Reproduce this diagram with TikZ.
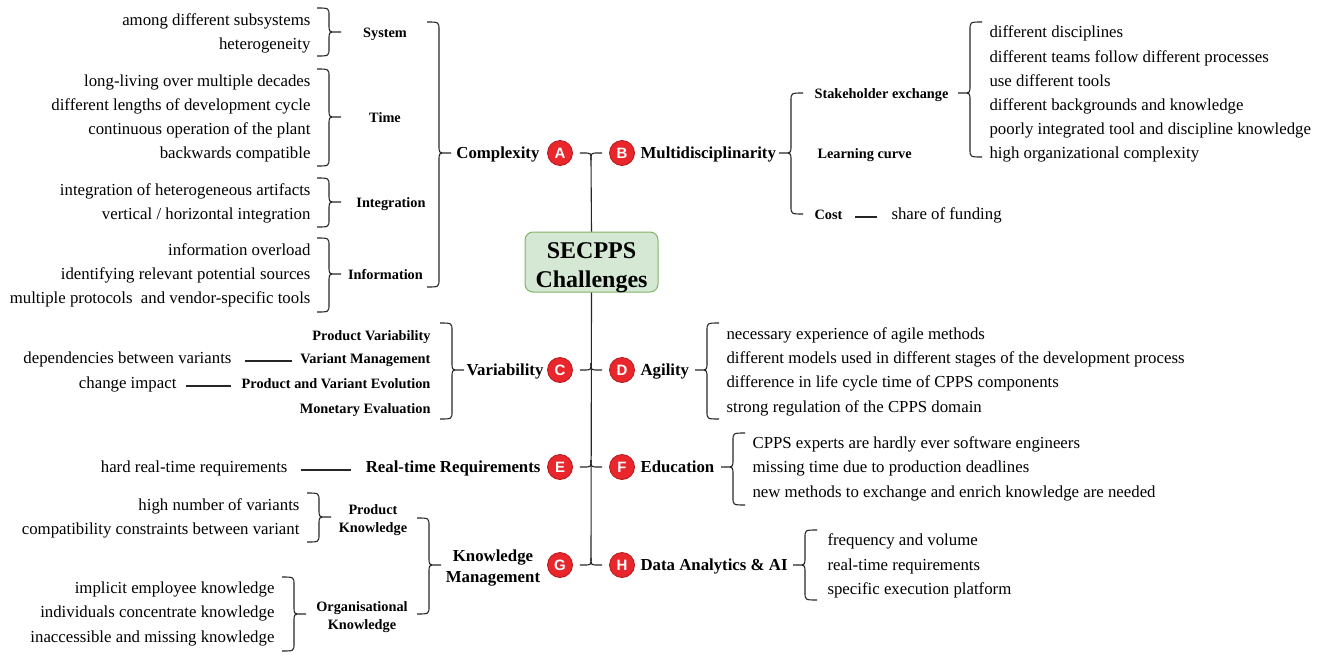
\documentclass[tikz,border=0pt]{standalone}
\usepackage{fontspec}
\setmainfont{Liberation Serif}
\newfontfamily\badgefont{Liberation Sans}
\definecolor{badgered}{HTML}{E8262B}
\definecolor{badgeline}{HTML}{B3191D}
\definecolor{hubfill}{HTML}{D5E8D4}
\definecolor{hubline}{HTML}{82B366}

% curly brace: x of the ends, y top, y tip, y bottom, 1 = tip to the right, -1 = tip to the left
\newcommand{\curly}[5]{%
  \pgfmathsetmacro{\cxa}{#1+#5*12}%
  \pgfmathsetmacro{\cxd}{#1+#5*19}%
  \pgfmathsetmacro{\cxb}{#1+#5*24}%
  \draw (#1,#2) .. controls (\cxa,#2) .. (\cxa,#2+8) -- (\cxa,#3-8)
    .. controls (\cxa,#3) .. (\cxd,#3) -- (\cxb,#3) -- (\cxd,#3)
    .. controls (\cxa,#3) .. (\cxa,#3+8) -- (\cxa,#4-8)
    .. controls (\cxa,#4) .. (#1,#4);
}

\begin{document}
\begin{tikzpicture}[x=1pt,y=-1pt,line width=1.1pt,draw=black!85,
  leaf/.style={font=\fontsize{16.8}{20}\selectfont,inner sep=0pt,yshift=-3pt},
  sub/.style={font=\bfseries\fontsize{14.3}{18}\selectfont,inner sep=0pt,align=center,yshift=-3pt},
  head/.style={font=\bfseries\fontsize{16.8}{21}\selectfont,inner sep=0pt,align=center,yshift=-3pt},
  badge/.style={circle,fill=badgered,draw=badgeline,line width=0.8pt,minimum size=25pt,
    inner sep=0pt,text=white,font=\badgefont\bfseries\fontsize{15}{15}\selectfont},
  hub/.style={rounded corners=8pt,fill=hubfill,draw=hubline,line width=1pt,
    minimum width=133pt,minimum height=60pt},
  hubtext/.style={align=center,inner sep=0pt,font=\bfseries\fontsize{24}{29}\selectfont}]
\useasboundingbox (0,0) rectangle (1325,654);

% centre and spine
\node[hub] (hub) at (591.5,262) {};
\node[hubtext] (hubtxt) at (591.5,267.5) {SECPPS\\Challenges};
\node[badge] (bA) at (560,153) {A};
\node[badge] (bB) at (622,153) {B};
\node[badge] (bC) at (560,370) {C};
\node[badge] (bD) at (622,370) {D};
\node[badge] (bE) at (560,467) {E};
\node[badge] (bF) at (622,467) {F};
\node[badge] (bG) at (560,565) {G};
\node[badge] (bH) at (622,565) {H};
\coordinate (jAB) at (591,153);
\coordinate (jCD) at (591,370);
\coordinate (jEF) at (591,467);
\coordinate (jGH) at (591,565);
\draw ([xshift=7pt]bA.east) -- ([xshift=-7pt]jAB) .. controls (jAB) .. ([yshift=-7pt]jAB);
\draw ([xshift=-7pt]bB.west) -- ([xshift=7pt]jAB) .. controls (jAB) .. ([yshift=-7pt]jAB);
\draw ([yshift=-7pt]jAB) -- (hub.north);
\draw (hub.south) -- ([yshift=7pt]jGH);
\foreach \l/\r/\j in {bC/bD/jCD,bE/bF/jEF,bG/bH/jGH} {
  \draw ([xshift=7pt]\l.east) -- ([xshift=-7pt]\j) .. controls (\j) .. ([yshift=7pt]\j);
  \draw ([xshift=-7pt]\r.west) -- ([xshift=7pt]\j) .. controls (\j) .. ([yshift=7pt]\j);
}

% A complexity
\node[head,anchor=mid east] (cplx) at (540,153) {Complexity};
\curly{427}{22}{153}{287}{1}
\node[sub,anchor=mid] (system) at (385,32) {System};
\node[sub,anchor=mid] (time) at (385,117) {Time};
\node[sub,anchor=mid] (integ) at (391,202) {Integration};
\node[sub,anchor=mid] (inform) at (385.5,274) {Information};
\curly{317}{8}{32}{56}{1}
\curly{317}{69}{117}{166}{1}
\curly{317}{178}{202}{227}{1}
\curly{317}{238}{274}{312}{1}
\node[leaf,anchor=mid east] (sys1) at (311,20) {among different subsystems};
\node[leaf,anchor=mid east] (sys2) at (311,44) {heterogeneity};
\node[leaf,anchor=mid east] (time1) at (311,81) {long-living over multiple decades};
\node[leaf,anchor=mid east] (time2) at (311,105) {different lengths of development cycle};
\node[leaf,anchor=mid east] (time3) at (311,129) {continuous operation of the plant};
\node[leaf,anchor=mid east] (time4) at (311,153) {backwards compatible};
\node[leaf,anchor=mid east] (int1) at (311,190) {integration of heterogeneous artifacts};
\node[leaf,anchor=mid east] (int2) at (311,214) {vertical / horizontal integration};
\node[leaf,anchor=mid east] (inf1) at (311,250) {information overload};
\node[leaf,anchor=mid east] (inf2) at (311,274) {identifying relevant potential sources};
\node[leaf,anchor=mid east] (inf3) at (311,298) {multiple protocols\ \ and vendor-specific tools};

% B multidisciplinarity
\node[head,anchor=mid west] (mult) at (640,153) {Multidisciplinarity};
\curly{803}{93}{153}{214}{-1}
\node[sub,anchor=mid west] (stake) at (814,93) {Stakeholder exchange};
\node[sub,anchor=mid west] (learn) at (817,153) {Learning curve};
\node[sub,anchor=mid west] (cost) at (814,214) {Cost};
\node[leaf,anchor=mid west] (fund) at (891,214) {share of funding};
\draw[shorten <=12pt,shorten >=14pt] (cost.mid east) -- (fund.mid west);
\curly{982}{22}{93}{157}{-1}
\node[leaf,anchor=mid west] (stk1) at (989,32) {different disciplines};
\node[leaf,anchor=mid west] (stk2) at (989,57) {different teams follow different processes};
\node[leaf,anchor=mid west] (stk3) at (989,81) {use different tools};
\node[leaf,anchor=mid west] (stk4) at (989,105) {different backgrounds and knowledge};
\node[leaf,anchor=mid west] (stk5) at (989,129) {poorly integrated tool and discipline knowledge};
\node[leaf,anchor=mid west] (stk6) at (989,153) {high organizational complexity};

% C variability
\node[head,anchor=mid east] (var) at (544,370) {Variability};
\curly{440}{323}{370}{419}{1}
\node[sub,anchor=mid east] (pvar) at (431,335) {Product Variability};
\node[sub,anchor=mid east] (vman) at (431,358) {Variant Management};
\node[sub,anchor=mid east] (pve) at (431,383) {Product and Variant Evolution};
\node[sub,anchor=mid east] (meval) at (431,408) {Monetary Evaluation};
\node[leaf,anchor=mid east] (dep) at (232,358) {dependencies between variants};
\node[leaf,anchor=mid east] (chg) at (177,383) {change impact};
\draw[shorten <=13pt,shorten >=8pt] (dep.mid east) -- (vman.mid west);
\draw[shorten <=9pt,shorten >=10pt] (chg.mid east) -- (pve.mid west);

% D agility
\node[head,anchor=mid west] (agil) at (640,370) {Agility};
\curly{719}{323}{370}{419}{-1}
\node[leaf,anchor=mid west] (agi1) at (726,334) {necessary experience of agile methods};
\node[leaf,anchor=mid west] (agi2) at (726,358) {different models used in different stages of the development process};
\node[leaf,anchor=mid west] (agi3) at (726,382) {difference in life cycle time of CPPS components};
\node[leaf,anchor=mid west] (agi4) at (726,407) {strong regulation of the CPPS domain};

% E real-time
\node[head,anchor=mid east] (rtr) at (541,467) {Real-time Requirements};
\node[leaf,anchor=mid east] (hrt) at (288,467) {hard real-time requirements};
\draw[shorten <=13pt,shorten >=14pt] (hrt.mid east) -- (rtr.mid west);

% F education
\node[head,anchor=mid west] (edu) at (640,467) {Education};
\curly{745}{433}{467}{505}{-1}
\node[leaf,anchor=mid west] (edu1) at (752,443) {CPPS experts are hardly ever software engineers};
\node[leaf,anchor=mid west] (edu2) at (752,467) {missing time due to production deadlines};
\node[leaf,anchor=mid west] (edu3) at (752,492) {new methods to exchange and enrich knowledge are needed};

% G knowledge management
\node[head] (km) at (493,565) {Knowledge\\Management};
\curly{417}{518}{565}{614}{1}
\node[sub] (pk) at (373,517) {Product\\Knowledge};
\node[sub] (ok) at (362,614) {Organisational\\Knowledge};
\curly{307}{493}{517}{542}{1}
\curly{282}{577}{614}{651}{1}
\node[leaf,anchor=mid east] (pk1) at (300,505) {high number of variants};
\node[leaf,anchor=mid east] (pk2) at (300,529) {compatibility constraints between variant};
\node[leaf,anchor=mid east] (ok1) at (275,588) {implicit employee knowledge};
\node[leaf,anchor=mid east] (ok2) at (275,612) {individuals concentrate knowledge};
\node[leaf,anchor=mid east] (ok3) at (275,637) {inaccessible and missing knowledge};

% H data analytics
\node[head,anchor=mid west] (data) at (640,565) {Data Analytics \& AI};
\curly{817}{530}{565}{600}{-1}
\node[leaf,anchor=mid west] (dat1) at (827,540) {frequency and volume};
\node[leaf,anchor=mid west] (dat2) at (827,565) {real-time requirements};
\node[leaf,anchor=mid west] (dat3) at (827,589) {specific execution platform};
\end{tikzpicture}
\end{document}
